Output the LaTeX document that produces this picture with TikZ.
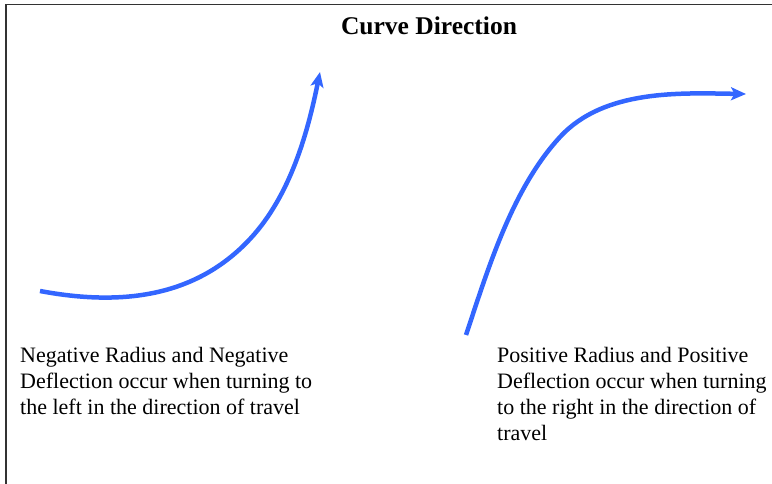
\documentclass[tikz,border=0pt]{standalone}
\usepackage{fontspec}
\setmainfont{Liberation Serif}
\usetikzlibrary{arrows.meta}
\definecolor{curveblue}{RGB}{51,102,255}
\begin{document}
\begin{tikzpicture}[x=1pt,y=-1pt]
    % Define styles
    \tikzstyle{curve} = [curveblue, line width=4.5pt, -{Stealth[length=15pt,width=13pt,inset=3.5pt]}]
    \tikzstyle{note} = [inner sep=0pt, anchor=north west, align=left, font=\fontsize{22}{26}\selectfont]

    \useasboundingbox (0,0) rectangle (772,484);

    % Frame
    \draw[black!80, line width=1.6pt] (6,484) -- (6,4.5) -- (772,4.5);

    % Title
    \node(title) at (429,26) {\fontsize{25.5}{30}\selectfont\bfseries Curve Direction};

    % Left curve (turning left)
    \coordinate (lstart) at (40,291);
    \coordinate (lmid) at (250,239);
    \coordinate (lend) at (320,72);
    \draw[curve] (lstart) .. controls (120,306) and (195,298) .. (lmid)
                          .. controls (291,195) and (308,131) .. (lend);

    % Right curve (turning right)
    \coordinate (rstart) at (466,335);
    \coordinate (rmid) at (560,137);
    \coordinate (rend) at (746,94);
    \draw[curve] (rstart) .. controls (488,269) and (512,189) .. (rmid)
                          .. controls (604,89) and (681,93) .. (rend);

    % Captions
    \node(lnote)[note] at (20,347) {Negative Radius and Negative\\Deflection occur when turning to\\the left in the direction of travel};
    \node(rnote)[note] at (497,347) {Positive Radius and Positive\\Deflection occur when turning\\to the right in the direction of\\travel};
\end{tikzpicture}
\end{document}
